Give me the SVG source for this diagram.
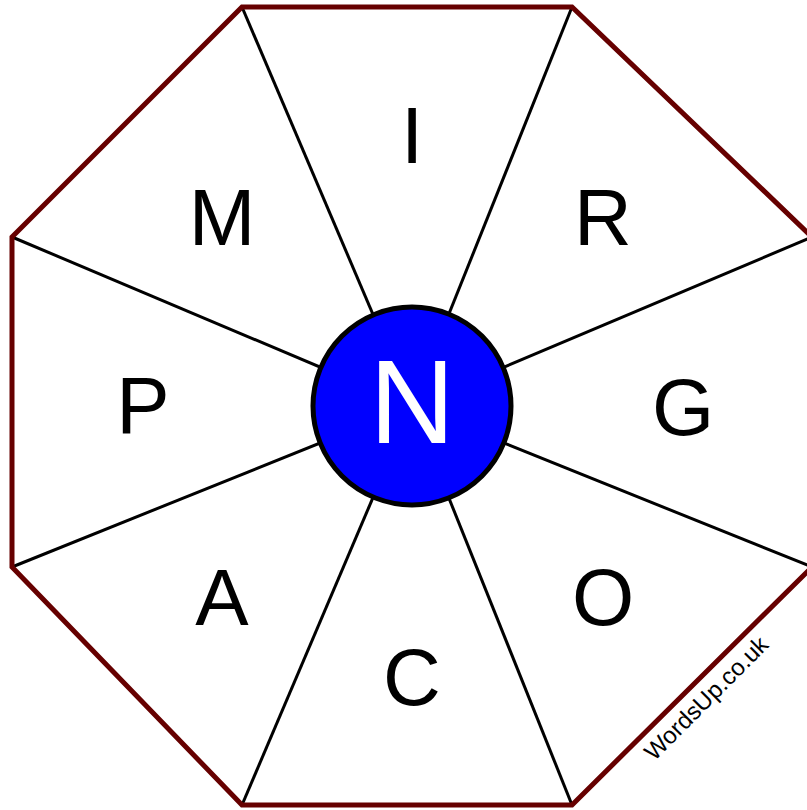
<svg xmlns="http://www.w3.org/2000/svg" width="807" height="810" viewBox="0 0 807 810">
<style>
.spoke{stroke:#000;stroke-width:3;fill:none}
.let{font-family:"Liberation Sans",Arial,sans-serif;font-size:80px;fill:#000;text-anchor:middle}
</style>
<rect width="807" height="810" fill="#fff"/>
<g id="connectors">
<line class="spoke" x1="412" y1="406" x2="242" y2="7"/>
<line class="spoke" x1="412" y1="406" x2="572" y2="7"/>
<line class="spoke" x1="412" y1="406" x2="812" y2="237"/>
<line class="spoke" x1="412" y1="406" x2="812" y2="567"/>
<line class="spoke" x1="412" y1="406" x2="572" y2="805"/>
<line class="spoke" x1="412" y1="406" x2="242" y2="805"/>
<line class="spoke" x1="412" y1="406" x2="12" y2="567"/>
<line class="spoke" x1="412" y1="406" x2="12" y2="237"/>
</g>
<g id="octagon">
<polygon points="242,7 572,7 812,237 812,567 572,805 242,805 12,567 12,237" fill="none" stroke="#660000" stroke-width="5" stroke-linejoin="miter"/>
</g>
<g id="node-I"><text class="let" x="412" y="163">I</text></g>
<g id="node-R"><text class="let" x="603" y="245">R</text></g>
<g id="node-G"><text class="let" x="683" y="435">G</text></g>
<g id="node-O"><text class="let" x="603" y="625">O</text></g>
<g id="node-C"><text class="let" x="412" y="705">C</text></g>
<g id="node-A"><text class="let" x="222" y="625">A</text></g>
<g id="node-P"><text class="let" x="143" y="433">P</text></g>
<g id="node-M"><text class="let" x="222" y="245">M</text></g>
<g id="node-N">
<circle cx="412" cy="406" r="99" fill="#0000ff" stroke="#000" stroke-width="5"/>
<text x="412" y="443" font-family="'Liberation Sans',Arial,sans-serif" font-size="118" fill="#fff" text-anchor="middle">N</text>
</g>
<g id="watermark">
<text x="0" y="0" transform="translate(712,704) rotate(-45)" font-family="'Liberation Sans',Arial,sans-serif" font-size="24" fill="#000" text-anchor="middle">WordsUp.co.uk</text>
</g>
</svg>
